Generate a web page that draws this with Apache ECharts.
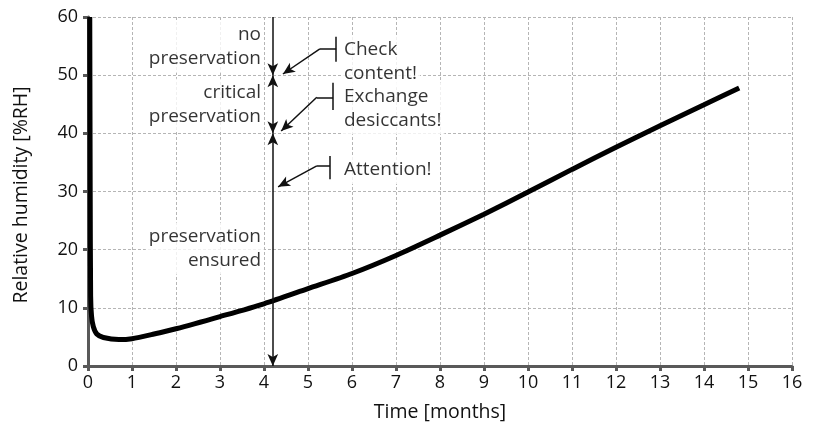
<!DOCTYPE html>
<html>
<head>
<meta charset="utf-8">
<script src="https://cdn.jsdelivr.net/npm/echarts@6/dist/echarts.min.js"></script>
<style>
    html, body { margin: 0; padding: 0; background: #fff; }
    #chart { width: 817px; height: 437px; }
</style>
</head>
<body>
<div id="chart"></div>
<script>
    // humidity curve
    var months = [0.04, 0.05, 0.06, 0.08, 0.12, 0.2, 0.35, 0.7, 1.0, 1.5, 2, 3, 4, 5, 6, 7, 8, 9, 10, 11, 12, 13, 14, 14.8];
    var humidity = [60, 30, 12, 8.6, 6.8, 5.5, 4.9, 4.55, 4.7, 5.5, 6.4, 8.5, 10.7, 13.3, 15.9, 19.0, 22.5, 26.1, 29.9, 33.8, 37.6, 41.3, 44.9, 47.8];

    var xTicks = [0, 16, 1];
    var yTicks = [0, 60, 10];

    // preservation zones on the marker line
    var markerMonth = 4.2;
    var zoneBounds = [60, 50, 40, 0];
    var zoneLabels = ['no\npreservation', 'critical\npreservation', 'preservation\nensured'];
    var zoneLabelPos = [[4.0, 54.9], [4.0, 44.9], [4.0, 20.2]];

    // callouts: arrow tip, elbow, end of the horizontal stroke, the bar
    var calloutText = ['Check\ncontent!', 'Exchange\ndesiccants!', 'Attention!'];
    var calloutTip = [[4.43, 50.2], [4.39, 40.4], [4.32, 30.8]];
    var calloutElbow = [[5.27, 54.5], [5.2, 46.2], [5.2, 34.4]];
    var calloutEnd = [5.64, 5.57, 5.5];
    var calloutBar = [[52.3, 56.6], [44.0, 48.7], [32.1, 36.1]];
    var calloutTextPos = [[5.75, 52.4], [5.75, 44.3], [5.75, 33.7]];

    var FONT = 'Open Sans';
    var chart = echarts.init(document.getElementById('chart'));

    var lines = [];
    // arrows on the marker line
    lines.push([{coord: [markerMonth, zoneBounds[0]], symbol: 'none'}, {coord: [markerMonth, zoneBounds[1]], symbol: 'arrow'}]);
    lines.push([{coord: [markerMonth, zoneBounds[1]], symbol: 'arrow'}, {coord: [markerMonth, zoneBounds[2]], symbol: 'arrow'}]);
    lines.push([{coord: [markerMonth, zoneBounds[2]], symbol: 'arrow'}, {coord: [markerMonth, zoneBounds[3]], symbol: 'arrow'}]);
    for (var i = 0; i < calloutTip.length; i++) {
        lines.push([{coord: calloutTip[i], symbol: 'arrow'}, {coord: calloutElbow[i], symbol: 'none'}]);
        lines.push([{coord: calloutElbow[i], symbol: 'none'}, {coord: [calloutEnd[i], calloutElbow[i][1]], symbol: 'none'}]);
        lines.push([{coord: [calloutEnd[i], calloutBar[i][0]], symbol: 'none'}, {coord: [calloutEnd[i], calloutBar[i][1]], symbol: 'none'}]);
    }

    function labelSeries(pos, texts, align) {
        return {
            type: 'scatter',
            symbolSize: 0,
            silent: true,
            z: 4,
            data: pos.map(function (p, k) { return {value: p, name: texts[k]}; }),
            label: {
                show: true,
                position: [0, 0],
                align: align,
                verticalAlign: 'middle',
                formatter: '{b}',
                fontFamily: FONT,
                fontSize: 19,
                lineHeight: 24,
                color: '#000',
                backgroundColor: '#fff',
                padding: [2, 3]
            }
        };
    }

    var theOptions = {
        animation: false,
        grid: {left: 88, right: 25, top: 17, bottom: 71},
        graphic: [{
            type: 'text',
            x: 21,
            y: 195,
            rotation: Math.PI / 2,
            style: {
                text: 'Relative humidity [%RH]',
                fontFamily: FONT,
                fontSize: 19.5,
                fill: '#111',
                align: 'center',
                verticalAlign: 'middle'
            }
        }],
        xAxis: {
            type: 'value',
            min: xTicks[0], max: xTicks[1], interval: xTicks[2],
            name: 'Time [months]',
            nameLocation: 'middle',
            nameGap: 36,
            nameTextStyle: {fontFamily: FONT, fontSize: 19.5, color: '#111'},
            axisLine: {lineStyle: {color: '#595959', width: 3}},
            axisTick: {length: 5, lineStyle: {color: '#595959', width: 3}},
            axisLabel: {fontFamily: FONT, fontSize: 18, color: '#111', margin: 8},
            splitLine: {lineStyle: {color: '#b5b5b5', width: 1, type: [3, 2]}}
        },
        yAxis: {
            type: 'value',
            min: yTicks[0], max: yTicks[1], interval: yTicks[2],
            axisLine: {show: true, lineStyle: {color: '#595959', width: 3}},
            axisTick: {show: true, length: 5, lineStyle: {color: '#595959', width: 3}},
            axisLabel: {fontFamily: FONT, fontSize: 18, color: '#111', margin: 10},
            splitLine: {lineStyle: {color: '#b5b5b5', width: 1, type: [3, 2]}}
        },
        series: [
            {
                name: 'humidity',
                type: 'line',
                data: months.map(function (m, k) { return [m, humidity[k]]; }),
                showSymbol: false,
                smooth: 0.25,
                lineStyle: {color: '#000', width: 5},
                z: 3,
                markLine: {
                    silent: true,
                    animation: false,
                    symbolSize: [8, 12],
                    label: {show: false},
                    lineStyle: {color: '#111', width: 1.5, type: 'solid'},
                    data: lines
                }
            },
            labelSeries(zoneLabelPos, zoneLabels, 'right'),
            labelSeries(calloutTextPos, calloutText, 'left')
        ]
    };
    chart.setOption(theOptions);
</script>
</body>
</html>
